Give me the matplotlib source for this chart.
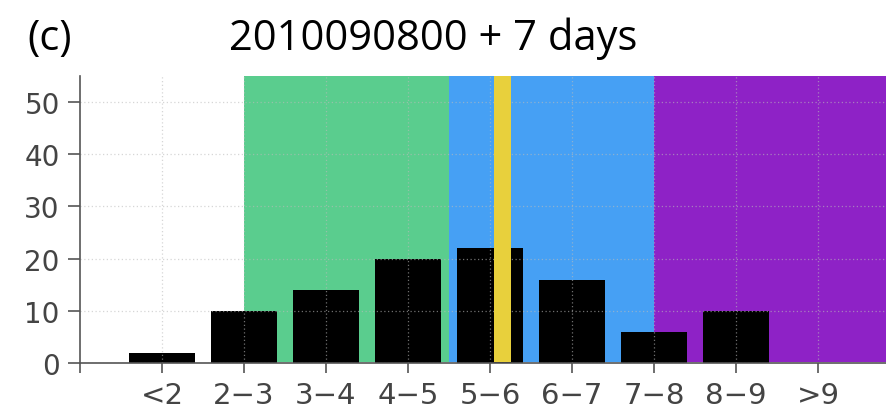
import matplotlib
matplotlib.use("Agg")
import matplotlib.pyplot as plt
import numpy as np

categories = ["<2", "2\u22123", "3\u22124", "4\u22125", "5\u22126", "6\u22127", "7\u22128", "8\u22129", ">9"]
counts = [2, 10, 14, 20, 22, 16, 6, 10, 0]
yticks = [0, 10, 20, 30, 40, 50]
# shaded category ranges (in category-position units)
bands = [(1.0, 3.5, "#5acd8e"), (3.5, 6.0, "#46a0f4"), (6.0, 9.0, "#8e22c6")]
marker_span = (4.05, 4.26)

fig = plt.figure(figsize=(8.86, 4.14), dpi=100)
ax = fig.add_axes([0.0903, 0.1208, 0.9097, 0.6932])

x = np.arange(len(categories))
for x0, x1, c in bands:
    ax.axvspan(x0, x1, ymin=0.005, ymax=1, color=c, lw=0, zorder=0)

ax.bar(x, counts, width=0.8, color="black", zorder=2)
ax.axvspan(marker_span[0], marker_span[1], ymin=0.005, ymax=1, color="#e8d03c", lw=0, zorder=3)

ax.set_xlim(-1.0, 8.83)
ax.set_ylim(0, 55)
ax.set_xticks(x)
ax.set_xticklabels(categories)
ax.set_xticks([-1.0], minor=True)
ax.set_yticks(yticks)

ax.grid(True, color="#bbbbbb", linestyle=(0, (1, 2)), linewidth=0.9, alpha=0.6, zorder=4)
ax.set_axisbelow(False)

for s in ["top", "right"]:
    ax.spines[s].set_visible(False)
for s in ["left", "bottom"]:
    ax.spines[s].set_color("#555555")
    ax.spines[s].set_linewidth(1.2)
    ax.spines[s].set_zorder(5)

ax.tick_params(axis="y", length=8.5, width=1.2, color="#555555", labelsize=20, labelcolor="#444444", pad=6)
ax.tick_params(axis="x", length=7, width=1.2, color="#555555", labelsize=21, labelcolor="#444444", pad=6)
ax.tick_params(axis="x", which="minor", length=7, width=1.2, color="#555555")

fig.text(0.031, 0.879, "(c)", fontsize=30, family="Open Sans", ha="left", va="baseline")
fig.text(0.489, 0.879, "2010090800 + 7 days", fontsize=30, family="Open Sans", ha="center", va="baseline")

fig.savefig("out.png", dpi=100)
